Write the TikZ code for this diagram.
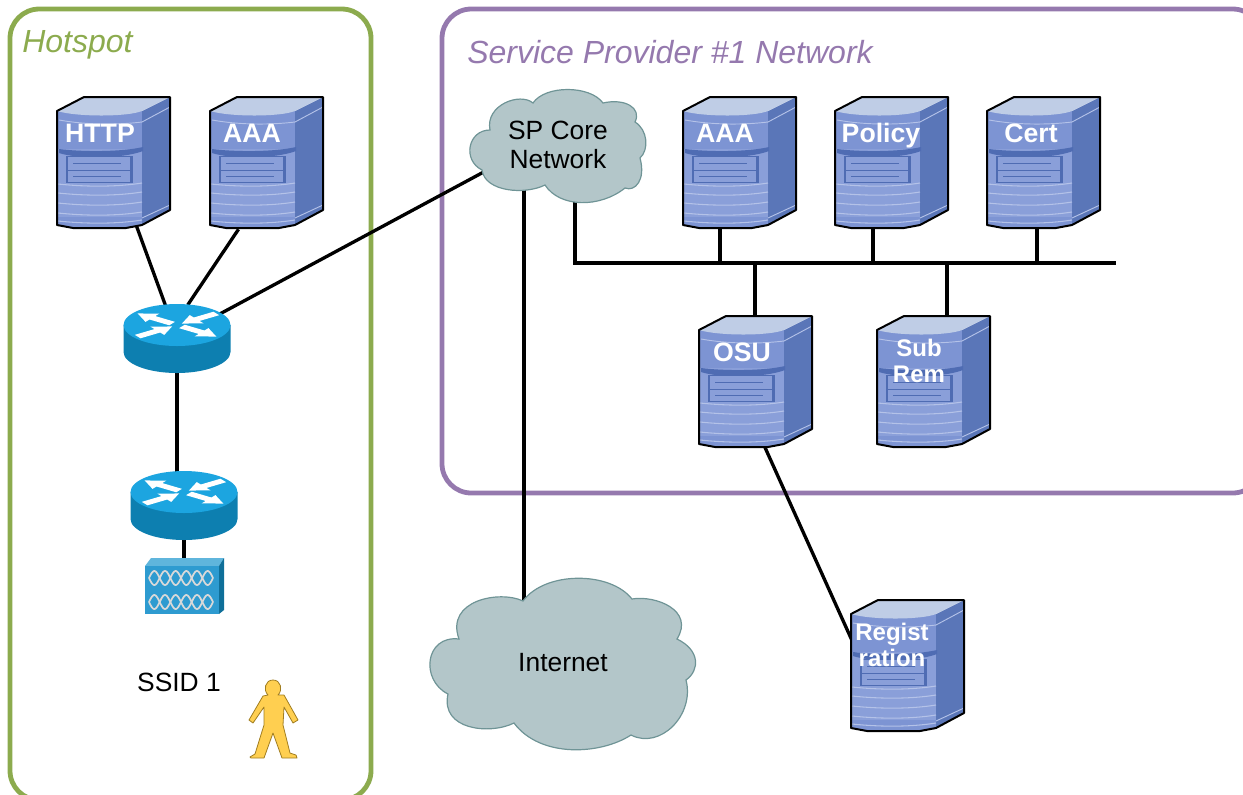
\documentclass[tikz,border=0pt]{standalone}
\usepackage{fontspec}
\setmainfont{Liberation Sans}
\pgfdeclarelayer{bglayer}
\pgfdeclarelayer{connlayer}
\pgfsetlayers{bglayer,connlayer,main}
\definecolor{hotgreen}{HTML}{8CAB4E}
\definecolor{spurple}{HTML}{9579AE}
\definecolor{cloudfill}{HTML}{B3C6C9}
\definecolor{cloudline}{HTML}{6F9496}
\definecolor{srvfront}{HTML}{7D94D3}
\definecolor{srvface}{HTML}{8A9FD9}
\definecolor{srvtop}{HTML}{BFCDE6}
\definecolor{srvside}{HTML}{5A76B8}
\definecolor{srvdark}{HTML}{4F6CB3}
\definecolor{srvlight}{HTML}{B4C2E8}
\definecolor{rtop}{HTML}{1CA5E0}
\definecolor{rside}{HTML}{0D7FB0}
\definecolor{apfront}{HTML}{2E9BD0}
\definecolor{aptop}{HTML}{5FB5DC}
\definecolor{apside}{HTML}{0F6F99}
\definecolor{userfill}{HTML}{FFCF50}
\definecolor{userline}{HTML}{A07D20}
\tikzset{
  px/.style={x=0.75pt,y=-0.75pt},
  areabox/.style={line width=3.6pt,rounded corners=22pt,fill=none},
  areatitle/.style={font=\fontsize{24}{28}\selectfont\itshape,anchor=base west,inner sep=0pt},
  link/.style={line width=2.5pt,black},
  srvtext/.style={font=\fontsize{#1}{19.5}\selectfont\bfseries,text=white,align=center,inner sep=0pt},
  plain/.style={font=\fontsize{19.8}{21.5}\selectfont,align=center,inner sep=0pt},
  cloudshape/.style={fill=cloudfill,draw=cloudline,line width=0.9pt},
}
% name, x, y, label, label x, label y, font size
\newcommand{\serverbox}[7]{%
  \node[inner sep=0pt,minimum width=84.75pt,minimum height=99pt] (#1) at (#2+56.5,#3+66) {};
  \begin{scope}[shift={(#2,#3)}]
    \fill[srvfront] (0,14) -- (85,14) -- (85,128) -- (69,131) -- (16,131) -- (0,128) -- cycle;
    \fill[srvface] (0,52) -- (85,52) -- (85,120) -- (0,120) -- cycle;
    \fill[srvside] (85,14) -- (113,0) -- (113,113) -- (85,128) -- cycle;
    \fill[srvtop] (0,14) -- (27,0) -- (113,0) -- (85,14) .. controls (70,20) and (20,20) .. (0,14) -- cycle;
    \draw[srvlight,line width=.7pt] (2,23) .. controls (30,28) and (60,28) .. (85,25) -- (113,10);
    \fill[srvdark] (2,52) .. controls (25,55) and (65,55) .. (86,50) -- (86,54) .. controls (65,62) and (20,62) .. (2,56) -- cycle;
    \fill[srvdark] (9,59) rectangle (76,86);
    \fill[srvface] (11,60) rectangle (73,72.5);
    \fill[srvface] (11,73.5) rectangle (73,85);
    \draw[srvdark,line width=.6pt] (16,66.5) -- (64,66.5) (16,79) -- (64,79);
    \foreach \yy in {87,96,106,116,124}{
      \draw[srvlight,line width=.8pt] (1,\yy) .. controls (30,\yy+3) and (60,\yy+3) .. (85,\yy-1);
    }
    \draw[srvlight,line width=.7pt] (85,121) -- (113,108);
    \draw[black,line width=1.5pt,line join=round] (0,14) -- (27,0) -- (113,0) -- (113,113) -- (85,128) -- (69,131) -- (16,131) -- (0,128) -- cycle;
    \node[srvtext=#7] (#1-label) at (#5,#6) {#4};
  \end{scope}%
}
\newcommand{\arrowout}[1]{%
  \fill[white,rotate=#1] (6,-5) -- (30,-5) -- (30,-12) -- (48,0) -- (30,12) -- (30,5) -- (6,5) -- cycle;%
}
\newcommand{\arrowin}[1]{%
  \fill[white,rotate=#1] (48,-5) -- (24,-5) -- (24,-12) -- (6,0) -- (24,12) -- (24,5) -- (48,5) -- cycle;%
}
% name, centre x, top-ellipse centre y
\newcommand{\routerbox}[3]{%
  \node[inner sep=0pt,minimum size=1pt] (#1) at (#2,#3+12) {};
  \begin{scope}[shift={(#2,#3)}]
    \fill[rside] (-53.5,0) -- (-53.5,27) arc[start angle=180,end angle=0,x radius=53.5,y radius=21] -- (53.5,0) -- cycle;
    \fill[rtop] (0,0) ellipse[x radius=53.5,y radius=21];
    \begin{scope}[yscale=.42]
      \arrowout{-35}
      \arrowout{145}
      \arrowin{-145}
      \arrowin{35}
    \end{scope}
  \end{scope}%
}
\begin{document}
\begin{tikzpicture}[px]
\useasboundingbox (0,0) rectangle (1243,794);
\clip (0,0) rectangle (1243,794);

% ---- clouds
\draw[cloudshape] (533,103) .. controls (545,85) and (590,85) .. (603,103)
  .. controls (625,98) and (642,108) .. (635,122)
  .. controls (648,130) and (649,150) .. (640,158)
  .. controls (646,180) and (635,192) .. (625,188)
  .. controls (600,208) and (560,208) .. (545,185)
  .. controls (525,195) and (485,192) .. (482,170)
  .. controls (462,160) and (468,130) .. (490,130)
  .. controls (485,105) and (520,92) .. (533,103) -- cycle;
\node[plain] (spcloud) at (558,145) {SP Core\\Network};

\draw[cloudshape] (523,601) .. controls (545,571) and (610,571) .. (632,599)
  .. controls (655,595) and (695,610) .. (677,639)
  .. controls (700,650) and (700,670) .. (686,680)
  .. controls (695,715) and (660,750) .. (631,735)
  .. controls (600,755) and (540,758) .. (514,723)
  .. controls (490,735) and (440,730) .. (448,694)
  .. controls (420,680) and (425,635) .. (459,639)
  .. controls (445,600) and (500,590) .. (523,601) -- cycle;
\node[plain] (internet) at (563,663) {Internet};

% ---- servers
\serverbox{http}{57}{97}{HTTP}{43}{36}{20}
\serverbox{aaah}{210}{97}{AAA}{42}{36}{20}
\serverbox{aaa}{683}{97}{AAA}{42}{36}{20}
\serverbox{policy}{835}{97}{Policy}{46}{38.5}{20}
\serverbox{cert}{987}{97}{Cert}{44}{36}{20}
\serverbox{osu}{699}{316}{OSU}{43}{36}{20}
\serverbox{subrem}{877}{316}{Sub\\Rem}{42}{45}{18}
\serverbox{reg}{851}{600}{Regist\\ration}{41}{45}{18}

% ---- routers
\routerbox{routera}{177}{325}
\routerbox{routerb}{184}{492}

% ---- access point
\node[inner sep=0pt,minimum width=58.5pt,minimum height=42pt] (ap) at (184.5,586) {};
\fill[aptop] (145,566) -- (151,558) -- (224,558) -- (219,566) -- cycle;
\fill[apfront] (145,566) rectangle (219,614);
\fill[apside] (219,566) -- (224,558) -- (224,610) -- (219,614) -- cycle;
\foreach \rowy in {578,602}{
  \draw[white!85!black,line width=1.3pt] plot[domain=0:64,samples=97] (149+\x,{\rowy+7*sin(\x*16.875)});
  \draw[white!85!black,line width=1.3pt] plot[domain=0:64,samples=97] (149+\x,{\rowy-7*sin(\x*16.875)});
}

% ---- user
\node[plain] (ssid) at (179,682) {SSID 1};
\node[inner sep=0pt,minimum size=1pt] (user) at (273,720) {};
\draw[fill=userfill,draw=userline,line width=.6pt,line join=round]
  (268,695) -- (263,696) -- (249,720) -- (253,723) -- (264,707) -- (264,725) -- (255,754) -- (250,757) -- (251,758) -- (264,758) -- (273,733)
  -- (282,758) -- (297,758) -- (296,755) -- (290,753) -- (283,725) -- (284,707) -- (293,723) -- (298,720) -- (284,695) -- (278,695)
  .. controls (283,690) and (281,680) .. (273,680) .. controls (265,680) and (263,690) .. (268,695) -- cycle;

% ---- area titles
\node[areatitle,text=hotgreen] (hottitle) at (22,52) {Hotspot};
\node[areatitle,text=spurple] (sptitle) at (467,63) {Service Provider \#1 Network};

\coordinate (busl) at (575,263);
\coordinate (busr) at (1116,263);
\coordinate (tapa) at (720,263);
\coordinate (tapp) at (873,263);
\coordinate (tapc) at (1037,263);
\coordinate (tapo) at (755,263);
\coordinate (taps) at (947,263);
\coordinate (netline) at (524,600);

\begin{pgfonlayer}{bglayer}
  \draw[areabox,draw=hotgreen] (10,9) rectangle (371,800);
  \draw[areabox,draw=spurple] (442,9) rectangle (1262,493);
\end{pgfonlayer}

\begin{pgfonlayer}{connlayer}
  \draw[link] (http.center) -- (routera.center);
  \draw[link] ([xshift=-21pt]aaah.south) -- ([xshift=8pt,yshift=24pt]routera.center);
  \draw[link] (routera.center) -- ([yshift=9.75pt]spcloud.center);
  \draw[link] (routera.center) -- (routera.center |- routerb.center);
  \draw[link] (routerb.center) -- (routerb.center |- ap.center);
  \draw[link] (netline |- spcloud.center) -- (netline |- internet.center);
  \draw[link] (busl |- spcloud.center) -- (busl) -- (busr);
  \draw[link] (tapa) -- (tapa |- aaa.center);
  \draw[link] (tapp) -- (tapp |- policy.center);
  \draw[link] (tapc) -- (tapc |- cert.center);
  \draw[link] (tapo) -- (tapo |- osu.center);
  \draw[link] (taps) -- (taps |- subrem.center);
  \draw[link] ([xshift=-15pt]osu.center) -- ([xshift=-33pt]reg.center);
\end{pgfonlayer}
\end{tikzpicture}
\end{document}
